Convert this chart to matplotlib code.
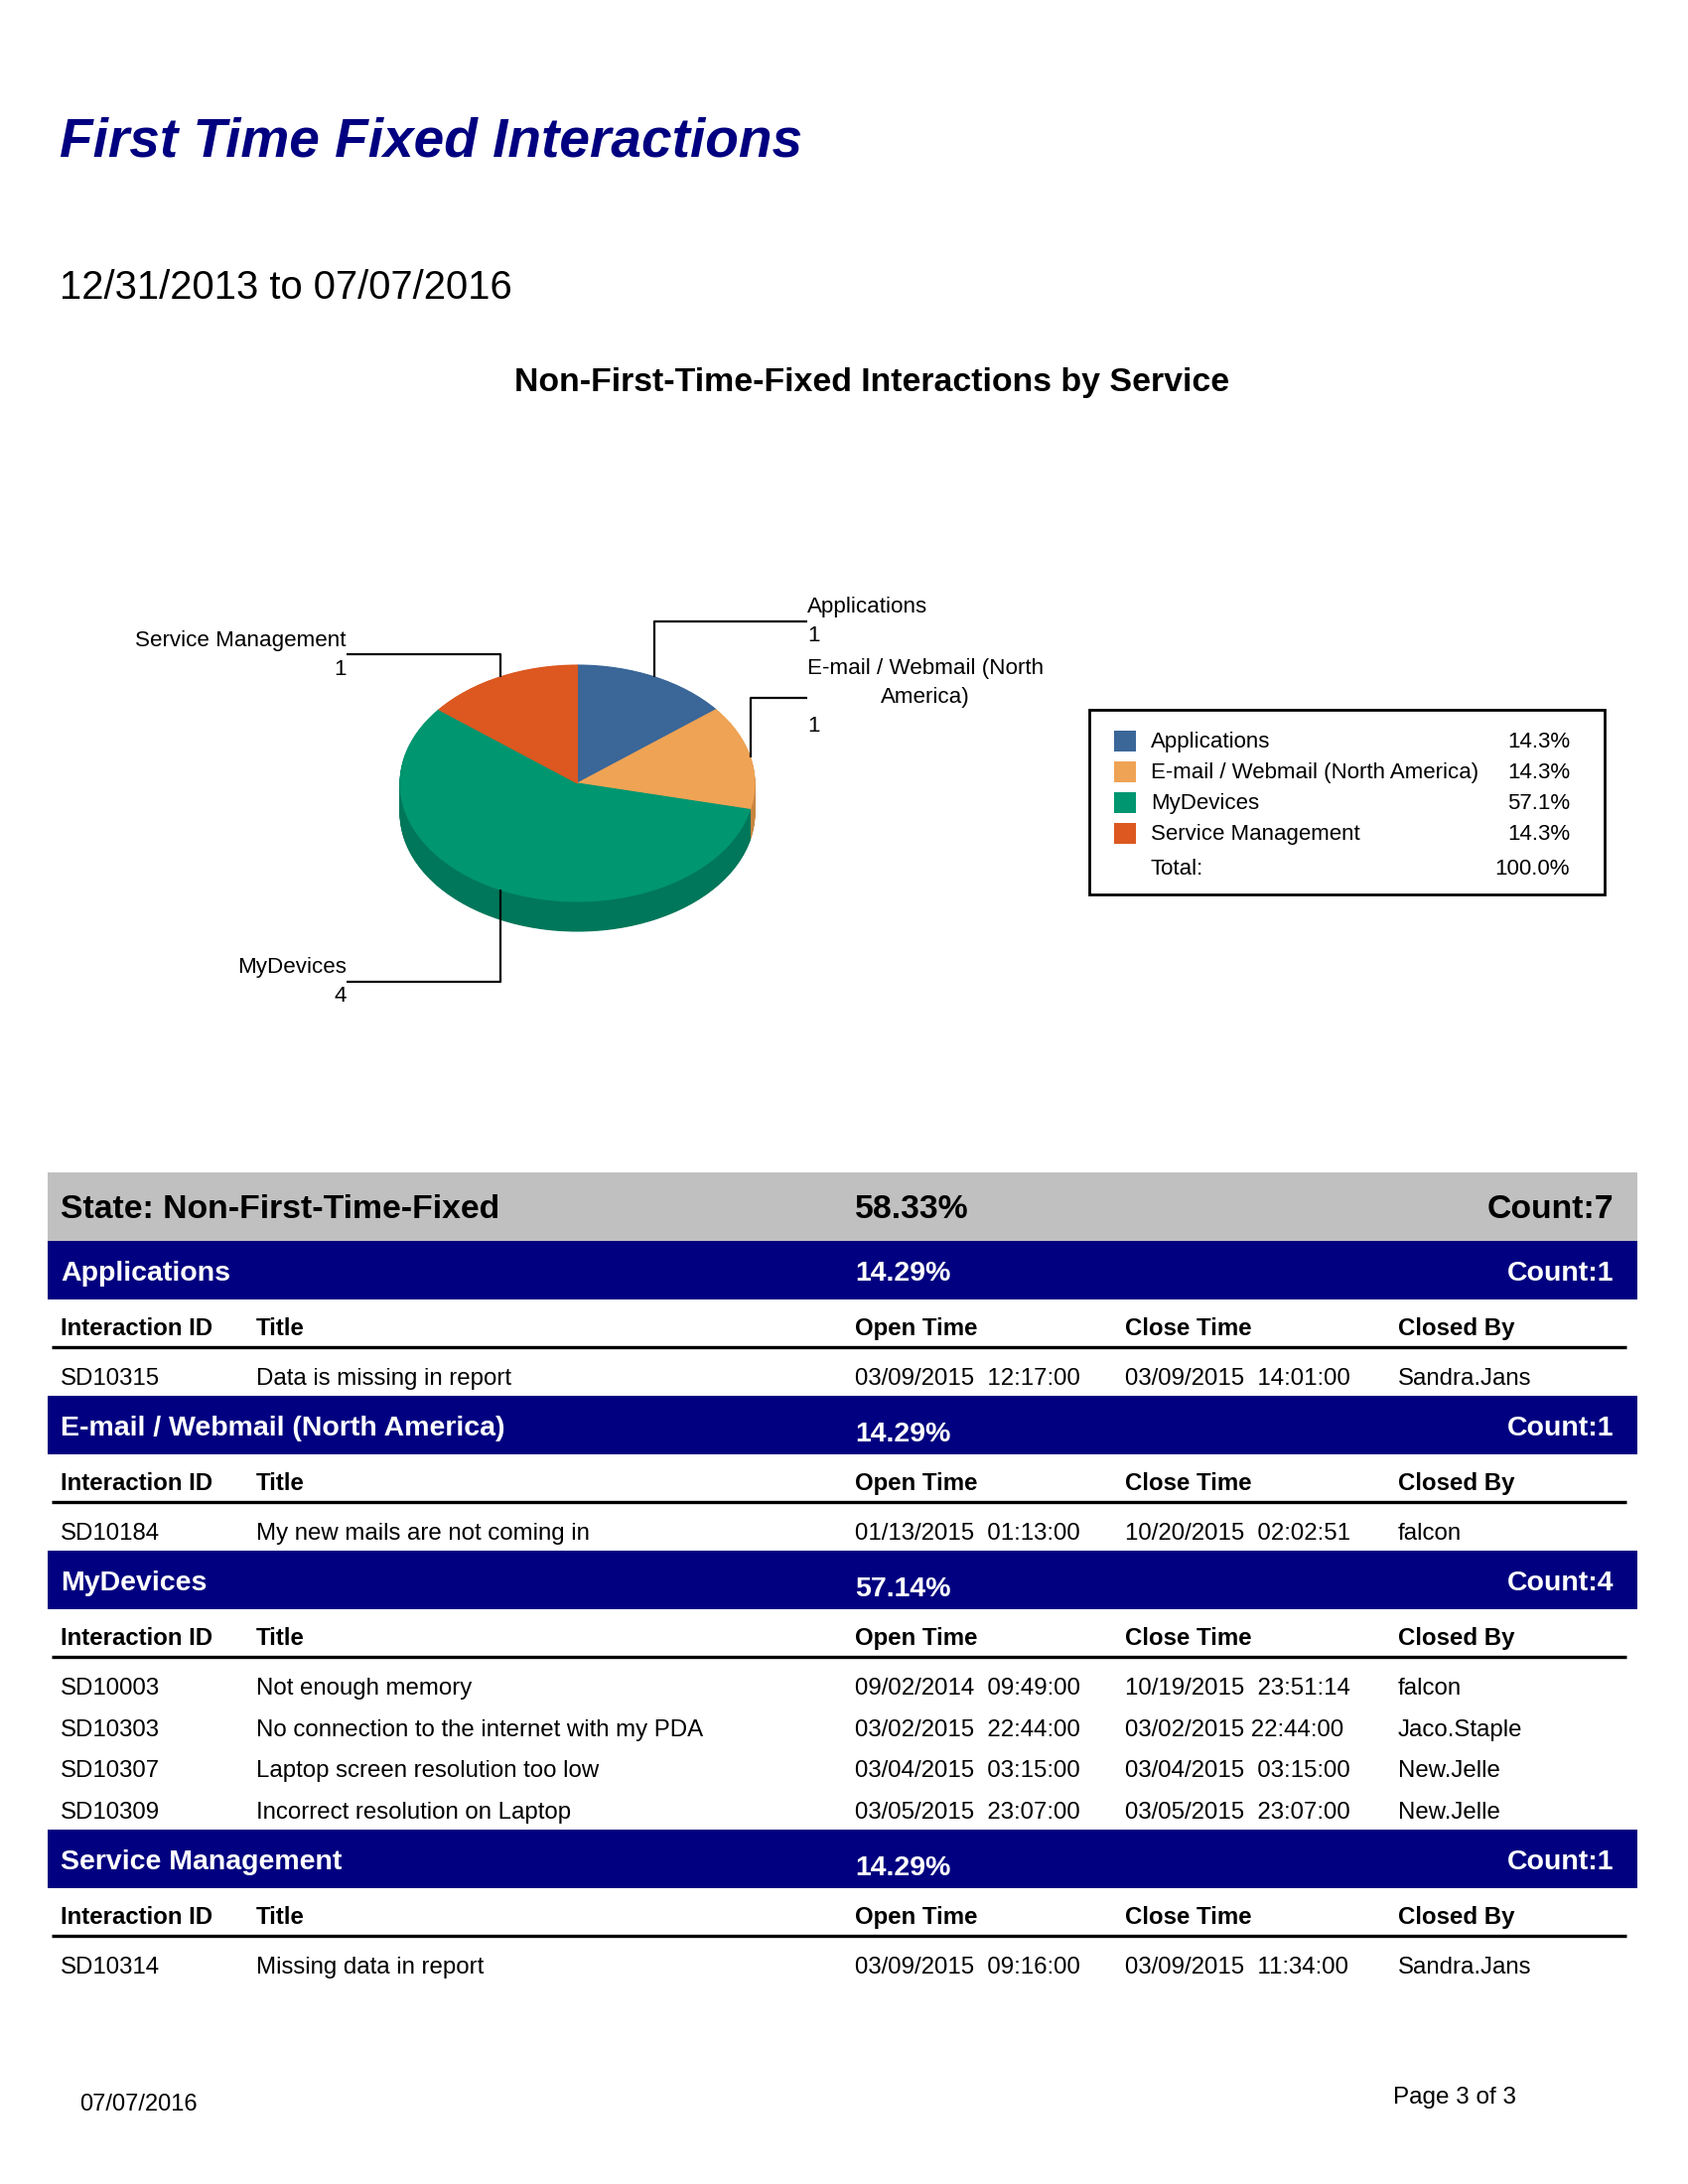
import textwrap
import numpy as np
import matplotlib
matplotlib.use('Agg')
import matplotlib.pyplot as plt
from matplotlib.patches import Rectangle

plt.rcParams['font.family'] = ['Liberation Sans', 'DejaVu Sans']

# ---- data ----
report_title = 'First Time Fixed Interactions'
date_range = '12/31/2013 to 07/07/2016'
chart_title = 'Non-First-Time-Fixed Interactions by Service'

services = ['Applications', 'E-mail / Webmail (North America)', 'MyDevices', 'Service Management']
counts = [1, 1, 4, 1]
pie_colors = ['#3A6698', '#EFA355', '#009670', '#DC5820']
side_colors = ['#2C4F78', '#C98640', '#00775A', '#B04618']

state_name = 'Non-First-Time-Fixed'
state_pct = 58.33

col_names = ['Interaction ID', 'Title', 'Open Time', 'Close Time', 'Closed By']
row_service = [0, 1, 2, 2, 2, 2, 3]
row_ids = ['SD10315', 'SD10184', 'SD10003', 'SD10303', 'SD10307', 'SD10309', 'SD10314']
row_titles = ['Data is missing in report', 'My new mails are not coming in', 'Not enough memory',
              'No connection to the internet with my PDA', 'Laptop screen resolution too low',
              'Incorrect resolution on Laptop', 'Missing data in report']
row_open = ['03/09/2015  12:17:00', '01/13/2015  01:13:00', '09/02/2014  09:49:00',
            '03/02/2015  22:44:00', '03/04/2015  03:15:00', '03/05/2015  23:07:00',
            '03/09/2015  09:16:00']
row_close = ['03/09/2015  14:01:00', '10/20/2015  02:02:51', '10/19/2015  23:51:14',
             '03/02/2015 22:44:00', '03/04/2015  03:15:00', '03/05/2015  23:07:00',
             '03/09/2015  11:34:00']
row_closed_by = ['Sandra.Jans', 'falcon', 'falcon', 'Jaco.Staple', 'New.Jelle', 'New.Jelle', 'Sandra.Jans']

print_date = '07/07/2016'
page_label = 'Page 3 of 3'

total = sum(counts)
W, H = 1700, 2200
navy = '#000080'

fig = plt.figure(figsize=(17, 22), dpi=100)

# pie geometry (pixels on the page)
cx, cy, rx, ry, depth = 581.5, 789, 178.5, 119, 30
pie_ax = fig.add_axes([(cx - 1.25 * rx) / W, 1 - (cy + 1.5 * ry) / H, 2.5 * rx / W, 3 * ry / H])
n = 40
for k in range(n, 0, -1):
    side, _ = pie_ax.pie(counts, colors=side_colors, startangle=90, counterclock=False,
                         center=(0, -depth / ry * k / n), wedgeprops=dict(linewidth=0.8))
    for w in side:
        w.set_edgecolor(w.get_facecolor())
wedges, _ = pie_ax.pie(counts, colors=pie_colors, startangle=90, counterclock=False,
                       wedgeprops=dict(linewidth=0.8))
for w in wedges:
    w.set_edgecolor(w.get_facecolor())
pie_ax.set_aspect('auto')
pie_ax.set_xlim(-1.25, 1.25)
pie_ax.set_ylim(-1.5, 1.5)
pie_ax.axis('off')

# page axes in pixel coordinates
page = fig.add_axes([0, 0, 1, 1])
page.set_xlim(0, W)
page.set_ylim(H, 0)
page.axis('off')

page.text(60, 157, report_title, fontsize=39.6, fontweight='bold', fontstyle='italic',
          color=navy, va='baseline')
page.text(60, 301, date_range, fontsize=28.8, va='baseline')
page.text(878, 394, chart_title, fontsize=24.4, fontweight='bold', ha='center', va='baseline')

# pie labels with leader lines
label_x = [813, 813, 349, 349]
elbow_y = [626, 703, 989, 659]
label_y = [617, 679, 980, 651]
line_h = 29
for i, w in enumerate(wedges):
    mid = np.radians((w.theta1 + w.theta2) / 2)
    sx = cx + rx * np.cos(mid)
    sy = cy - ry * np.sin(mid)
    lx, ey = label_x[i], elbow_y[i]
    page.plot([sx, sx, lx], [sy, ey, ey], color='black', lw=1.6, solid_capstyle='butt')
    lines = textwrap.wrap(services[i], 24)
    ha = 'left' if lx > cx else 'right'
    # multi-line text is anchored on its last baseline
    page.text(lx, label_y[i] + line_h * (len(lines) - 1), '\n'.join(lines), fontsize=16.1,
              ha=ha, va='baseline', multialignment='center', linespacing=1.52)
    page.text(lx, label_y[i] + line_h * len(lines), str(counts[i]), fontsize=16.1, ha=ha,
              va='baseline')

# legend box
page.add_patch(Rectangle((1097, 715), 519, 186, fill=False, edgecolor='black', lw=2))
for i, (name, v, c) in enumerate(zip(services, counts, pie_colors)):
    base = 753 + 31 * i
    page.add_patch(Rectangle((1122, base - 17), 22, 21, color=c, lw=0))
    page.text(1159, base, name, fontsize=16, va='baseline')
    page.text(1581, base, f'{v / total * 100:.1f}%', fontsize=16, ha='right', va='baseline')
page.text(1159, 881, 'Total:', fontsize=16, va='baseline')
page.text(1581, 881, f'{100 * sum(counts) / total:.1f}%', fontsize=16, ha='right', va='baseline')

# table
col_x = [61, 258, 861, 1133, 1408]
x0, x1 = 48, 1649
body_fs = 17.3
page.add_patch(Rectangle((x0, 1181), x1 - x0, 69, color='#C0C0C0', lw=0))
page.text(61, 1227, f'State: {state_name}', fontsize=24.3, fontweight='bold', va='baseline')
page.text(861, 1227, f'{state_pct:.2f}%', fontsize=24.3, fontweight='bold', va='baseline')
page.text(1625, 1227, f'Count:{total}', fontsize=24.3, fontweight='bold', ha='right', va='baseline')

top = 1250
for g, name in enumerate(services):
    page.add_patch(Rectangle((x0, top), x1 - x0, 58.5, color=navy, lw=0))
    page.text(61, top + 39.5, name, fontsize=20.5, fontweight='bold', color='white', va='baseline')
    page.text(861, top + (39.5 if g == 0 else 45.5), f'{counts[g] / total * 100:.2f}%', fontsize=20.5,
              fontweight='bold', color='white', va='baseline')
    page.text(1625, top + 39.5, f'Count:{counts[g]}', fontsize=20.5, fontweight='bold', color='white',
              ha='right', va='baseline')
    for cxp, cn in zip(col_x, col_names):
        page.text(cxp, top + 95, cn, fontsize=body_fs, fontweight='bold', va='baseline')
    page.plot([52, 1638], [top + 107, top + 107], color='black', lw=2.4, solid_capstyle='butt')
    yb = top + 145
    for r in range(len(row_ids)):
        if row_service[r] != g:
            continue
        vals = [row_ids[r], row_titles[r], row_open[r], row_close[r], row_closed_by[r]]
        for cxp, v in zip(col_x, vals):
            page.text(cxp, yb, v, fontsize=body_fs, va='baseline')
        yb += 41.7
    top = yb - 41.7 + 11

# footer
page.text(80, 2126, print_date, fontsize=17, va='baseline')
page.text(1527, 2119, page_label, fontsize=17.5, ha='right', va='baseline')

fig.savefig('out.png', dpi=100, facecolor='white')
